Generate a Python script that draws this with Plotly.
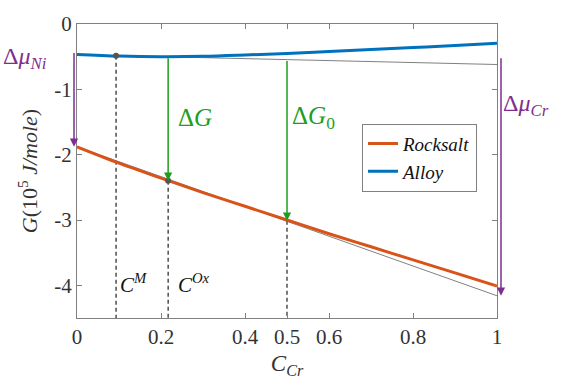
import plotly.graph_objects as go

# ---- data ----
c_cr = [0.0, 0.1, 0.2, 0.3, 0.4, 0.5, 0.6, 0.7, 0.8, 0.9, 1.0]
g_rocksalt = [-1.88, -2.13, -2.36, -2.58, -2.79, -3.00, -3.21, -3.41, -3.61, -3.81, -4.01]
g_alloy = [-0.465, -0.49, -0.50, -0.495, -0.475, -0.45, -0.42, -0.39, -0.36, -0.33, -0.295]

tangent_x = [0.0, 1.0]
alloy_tangent = [-0.47, -0.62]
rocksalt_tangent = [-1.88, -4.16]

c_m = 0.093
c_ox = 0.217
c_0 = 0.5
g_alloy_cm = -0.485
g_alloy_cox = -0.50
g_alloy_c0 = -0.545
g_rs_cox = -2.40
g_rs_c0 = -3.01

x_ticks = [0, 0.2, 0.4, 0.5, 0.6, 0.8, 1]
x_tick_text = ["0", "0.2", "0.4", "0.5", "0.6", "0.8", "1"]
y_ticks = [0, -1, -2, -3, -4]
y_tick_text = ["0", "-1", "-2", "-3", "-4"]

ORANGE = "#D95319"
BLUE = "#0072BD"
PURPLE = "#7E2F8E"
GREEN = "#1E9E1E"
GRAY = "#808080"
FONT = "Liberation Serif"
y_bottom = -4.5
PLOT_H = 304  # px height of plot area
PX_PER_UNIT = PLOT_H / (0 - y_bottom)

fig = go.Figure()

# tangent lines
fig.add_trace(go.Scatter(x=tangent_x, y=alloy_tangent, mode="lines",
                         line=dict(color=GRAY, width=1), showlegend=False, hoverinfo="skip"))
fig.add_trace(go.Scatter(x=tangent_x, y=rocksalt_tangent, mode="lines",
                         line=dict(color=GRAY, width=1), showlegend=False, hoverinfo="skip"))

# dashed verticals
for cx, cy in [(c_m, g_alloy_cm), (c_ox, g_rs_cox), (c_0, g_rs_c0)]:
    fig.add_trace(go.Scatter(x=[cx, cx], y=[cy, y_bottom], mode="lines",
                             line=dict(color="#222222", width=1.2, dash="4px,3px"),
                             showlegend=False, hoverinfo="skip"))

fig.add_trace(go.Scatter(x=c_cr, y=g_rocksalt, mode="lines", name="<i>Rocksalt</i>",
                         line=dict(color=ORANGE, width=3, shape="spline")))
fig.add_trace(go.Scatter(x=c_cr, y=g_alloy, mode="lines", name="<i>Alloy</i>",
                         line=dict(color=BLUE, width=3, shape="spline")))

# tangent points
fig.add_trace(go.Scatter(x=[c_m, c_ox], y=[g_alloy_cm, g_rs_cox], mode="markers",
                         marker=dict(color="#555555", size=6), showlegend=False, hoverinfo="skip"))


def arrow(x, y0, y1, color):
    fig.add_annotation(x=x, y=y1, ax=x, ay=y0, xref="x", yref="y", axref="x", ayref="y",
                       text="", showarrow=True, arrowhead=2, arrowsize=1.1,
                       arrowwidth=1.5, arrowcolor=color)


def side_arrow(xpaper, y0, y1, color):
    # arrow outside the plot area: x in paper coords, tail offset in pixels
    fig.add_annotation(x=xpaper, y=y1, xref="paper", yref="y",
                       ax=0, ay=-(y0 - y1) * PX_PER_UNIT,
                       text="", showarrow=True, arrowhead=2, arrowsize=1.1,
                       arrowwidth=1.5, arrowcolor=color)


def px(xp):
    return (xp - 77) / 420


def py(yp):
    return (319 - yp) / 304


side_arrow(px(74), alloy_tangent[0], rocksalt_tangent[0], PURPLE)
side_arrow(px(501), alloy_tangent[1], rocksalt_tangent[1], PURPLE)
arrow(c_ox, g_alloy_cox, g_rs_cox, GREEN)
arrow(c_0, g_alloy_c0, g_rs_c0, GREEN)


def label(x, y, text, color, size=20, xanchor="left"):
    fig.add_annotation(x=x, y=y, xref="paper", yref="paper", text=text, showarrow=False,
                       font=dict(family=FONT, size=size, color=color),
                       xanchor=xanchor, yanchor="middle")


label(px(1), py(50), "Δ<i>μ<sub>Ni</sub></i>", PURPLE, size=24)
label(px(501), py(99), "Δ<i>μ<sub>Cr</sub></i>", PURPLE, size=24)
label(px(176), py(112), "Δ<i>G</i>", GREEN, size=25)
label(px(290), py(112), "Δ<i>G</i><sub>0</sub>", GREEN, size=25)
label(px(118), py(283), "<i>C<sup>M</sup></i>", "#111111", size=21)
label(px(176), py(283), "<i>C<sup>Ox</sup></i>", "#111111", size=21)

fig.update_layout(
    width=571, height=383,
    margin=dict(l=77, r=74, t=15, b=64),
    paper_bgcolor="white", plot_bgcolor="white",
    font=dict(family=FONT, size=21, color="#333333"),
    legend=dict(x=px(362), y=py(118), xanchor="left", yanchor="top",
                bgcolor="white", bordercolor=GRAY, borderwidth=1,
                font=dict(family=FONT, size=19, color="#111111"),
                tracegroupgap=0),
    xaxis=dict(range=[0, 1], tickvals=x_ticks, ticktext=x_tick_text,
               ticks="inside", ticklen=5, tickcolor=GRAY, showline=True,
               linecolor=GRAY, linewidth=1, mirror="ticks", showgrid=False,
               zeroline=False,
               title=dict(text="<i>C<sub>Cr</sub></i>", font=dict(size=23), standoff=6)),
    yaxis=dict(range=[y_bottom, 0], tickvals=y_ticks, ticktext=y_tick_text,
               ticks="inside", ticklen=5, tickcolor=GRAY, showline=True,
               linecolor=GRAY, linewidth=1, mirror="ticks", showgrid=False,
               zeroline=False,
               title=dict(text="<i>G</i>(10<sup>5</sup> <i>J/mole</i>)",
                          font=dict(size=22), standoff=10)),
)

fig.write_html("out.html")
